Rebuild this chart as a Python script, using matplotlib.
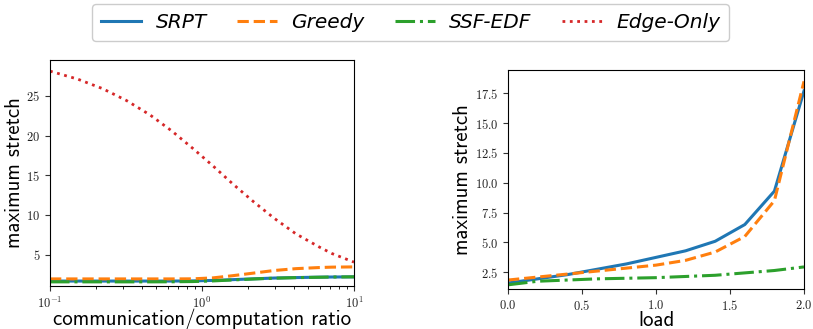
import math
import matplotlib
matplotlib.use("Agg")
import matplotlib.pyplot as plt
from matplotlib.ticker import FuncFormatter, LogLocator

plt.rcParams["mathtext.fontset"] = "cm"
plt.rcParams["axes.unicode_minus"] = False

# ── Left panel: comm/comp ratio sweep ──────────────────────────────
ratio = [0.1, 0.152, 0.222, 0.319, 0.455, 0.631, 0.869, 1.18, 1.6, 2.18, 2.99, 4.15, 5.91, 7.16, 10.0]
edge_ratio = [28.1, 27.1, 25.9, 24.4, 22.6, 20.6, 18.4, 16.2, 13.9, 11.7, 9.6, 7.65, 6.0, 5.18, 4.1]
greedy_ratio = [1.99, 1.99, 1.99, 1.99, 1.99, 1.99, 2.0, 2.12, 2.4, 2.72, 3.05, 3.28, 3.42, 3.47, 3.5]
srpt_ratio = [1.72, 1.72, 1.72, 1.72, 1.72, 1.72, 1.74, 1.8, 1.9, 2.0, 2.1, 2.16, 2.21, 2.23, 2.25]
ssf_ratio = [1.62, 1.62, 1.62, 1.62, 1.62, 1.63, 1.66, 1.74, 1.86, 1.98, 2.08, 2.15, 2.2, 2.23, 2.25]

# ── Right panel: load sweep ─────────────────────────────────────────
load = [0.0, 0.2, 0.4, 0.6, 0.8, 1.0, 1.2, 1.4, 1.6, 1.8, 2.0]
srpt_load = [1.6, 1.95, 2.3, 2.75, 3.2, 3.75, 4.3, 5.1, 6.5, 9.3, 17.7]
greedy_load = [1.85, 2.1, 2.35, 2.6, 2.85, 3.1, 3.5, 4.2, 5.5, 8.5, 18.5]
ssf_load = [1.45, 1.75, 1.85, 1.95, 2.0, 2.05, 2.15, 2.25, 2.45, 2.65, 2.95]

labels = ["SRPT", "Greedy", "SSF-EDF", "Edge-Only"]
blue, orange, green, red = "#1f77b4", "#ff7f0e", "#2ca02c", "#d62728"
lw = 2.2
label_font = {"family": "cmss10", "size": 15}

fig = plt.figure(figsize=(8.13, 3.29), dpi=100)
ax1 = fig.add_axes([50 / 813, 1 - 286 / 329, 304 / 813, 226 / 329])
ax2 = fig.add_axes([508 / 813, 1 - 289 / 329, 296 / 813, 219 / 329])

# left
ax1.plot(ratio, srpt_ratio, color=blue, lw=lw, label=labels[0])
ax1.plot(ratio, greedy_ratio, color=orange, lw=lw, ls="--", label=labels[1])
ax1.plot(ratio, ssf_ratio, color=green, lw=lw, ls="-.", label=labels[2])
ax1.plot(ratio, edge_ratio, color=red, lw=2.0, ls=":", label=labels[3])
ax1.set_xscale("log")
ax1.set_xlim(0.1, 10)
ax1.set_ylim(1.1, 29.5)
ax1.set_yticks([5, 10, 15, 20, 25])
ax1.xaxis.set_major_locator(LogLocator(base=10, numticks=5))
ax1.xaxis.set_major_formatter(FuncFormatter(lambda v, p: r"$10^{%d}$" % round(math.log10(v))))
ax1.yaxis.set_major_formatter(FuncFormatter(lambda v, p: r"$%d$" % v))
ax1.set_xlabel("communication/computation ratio", fontdict=label_font, labelpad=-1.5)
ax1.set_ylabel("maximum stretch", fontdict=label_font, labelpad=1.5)

# right
ax2.plot(load, srpt_load, color=blue, lw=lw)
ax2.plot(load, greedy_load, color=orange, lw=lw, ls="--")
ax2.plot(load, ssf_load, color=green, lw=lw, ls="-.")
ax2.set_xlim(0, 2)
ax2.set_ylim(1.1, 19.45)
ax2.set_xticks([0, 0.5, 1.0, 1.5, 2.0])
ax2.set_yticks([2.5, 5, 7.5, 10, 12.5, 15, 17.5])
ax2.xaxis.set_major_formatter(FuncFormatter(lambda v, p: r"$%.1f$" % v))
ax2.yaxis.set_major_formatter(FuncFormatter(lambda v, p: r"$%.1f$" % v))
ax2.set_xlabel("load", fontdict=label_font, labelpad=-1)
ax2.set_ylabel("maximum stretch", fontdict=label_font, labelpad=1.5)

for ax in (ax1, ax2):
    ax.tick_params(labelsize=9, colors="#333333", labelcolor="#222222")

fig.legend(loc="upper center", bbox_to_anchor=(0.505, 0.995), ncol=4,
           prop={"style": "italic", "size": 14.5}, handlelength=2.0,
           handletextpad=0.7, columnspacing=1.5, fancybox=True,
           framealpha=1.0, borderpad=0.45, borderaxespad=0.1)

plt.savefig("out.png", dpi=100)
